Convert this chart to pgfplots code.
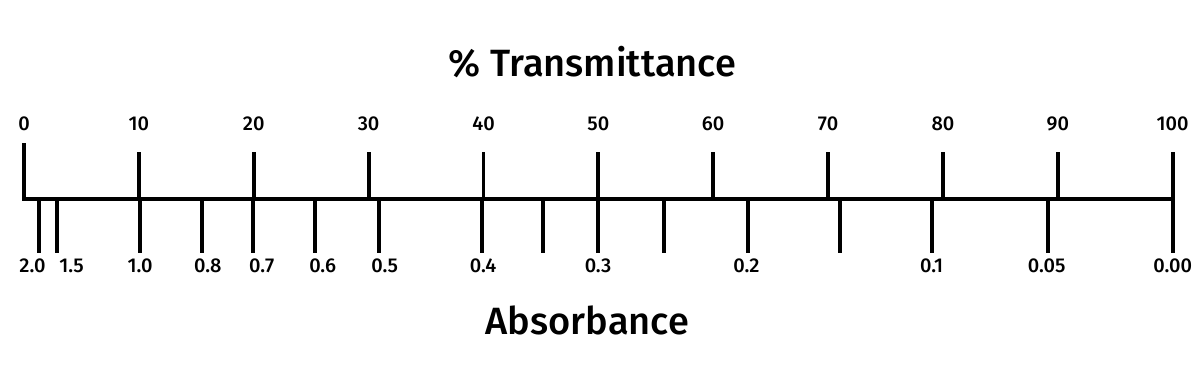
\documentclass[border=0pt]{standalone}
\usepackage{fontspec}
\setmainfont{Fira Sans}[UprightFont=* Medium]
\usepackage{pgfplots}
\pgfplotsset{compat=1.18}
\begin{document}
\begin{tikzpicture}
\begin{axis}[
  scale only axis, width=600pt, height=184pt,
  xmin=-2.0893, xmax=102.377, ymin=-169, ymax=199,
  axis lines=none, clip=false,
]
\path (rel axis cs:0,0) rectangle (rel axis cs:1,1);
% main line
\addplot[line width=1.9pt, line cap=rect] coordinates {(0,0) (100,0)};
% upper ticks (% transmittance)
\addplot[ycomb, line width=1.9pt] coordinates {
(0,55.7) (10,46.7) (20,46.7) (30,46.7) (40,46.7) (50,46.7)
(60,46.7) (70,46.7) (80,46.7) (90,46.7) (100,46.7)};
% lower ticks (absorbance)
\addplot[ycomb, line width=1.9pt] coordinates {
(1.33,-53.7) (2.85,-53.7) (10.1,-53.7) (15.47,-53.7) (19.96,-53.7)
(25.36,-53.7) (30.93,-53.7) (39.85,-53.7) (45.16,-53.7) (49.97,-53.7)
(55.71,-53.7) (63.0,-53.7) (71.04,-53.7) (79.02,-53.7) (89.12,-53.7) (100,-53.7)};
% upper labels
\addplot[draw=none, mark=none, nodes near coords, point meta=explicit symbolic,
  every node near coord/.append style={anchor=center, font=\fontsize{10}{12}\selectfont, inner sep=0pt}]
  coordinates {
(0,75)[0] (10,75)[10] (20,75)[20] (30,75)[30] (40,75)[40] (50,75)[50]
(60,75)[60] (70,75)[70] (80,75)[80] (90,75)[90] (100,75)[100]};
% lower labels
\addplot[draw=none, mark=none, nodes near coords, point meta=explicit symbolic,
  every node near coord/.append style={anchor=center, font=\fontsize{10}{12}\selectfont, inner sep=0pt}]
  coordinates {
(0.74,-66.7)[2.0] (4.15,-66.7)[1.5] (10.1,-66.7)[1.0] (16.0,-66.7)[0.8]
(20.7,-66.7)[0.7] (26.0,-66.7)[0.6] (31.4,-66.7)[0.5] (39.96,-66.7)[0.4]
(49.97,-66.7)[0.3] (62.9,-66.7)[0.2] (79.02,-66.7)[0.1] (89.03,-66.7)[0.05]
(100,-66.7)[0.00]};
\node[anchor=center, font=\fontsize{19}{22}\selectfont, inner sep=0pt] at (axis cs:49.49,137) {\% Transmittance};
\node[anchor=center, font=\fontsize{19}{22}\selectfont, inner sep=0pt] at (axis cs:49.05,-121) {Absorbance};
\end{axis}
\end{tikzpicture}
\end{document}
